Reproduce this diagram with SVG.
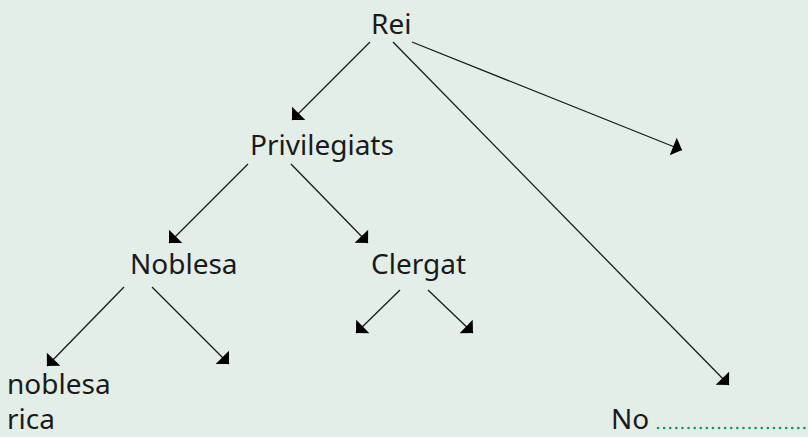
<svg xmlns="http://www.w3.org/2000/svg" width="808" height="437" viewBox="0 0 808 437">
<style>
.t{font-family:"Noto Sans","Liberation Sans",sans-serif;font-size:28px;fill:#1a1a1a}
.c{stroke:#1a1a1a;stroke-width:1.3;fill:none;marker-end:url(#ah)}
</style>
<defs>
<marker id="ah" markerUnits="userSpaceOnUse" markerWidth="12" markerHeight="20" viewBox="0 -9 9 18" refX="8.5" refY="0" orient="auto">
<path d="M0,-8.5 L8.5,0 L0,8.5 z" fill="#000"/>
</marker>
</defs>
<rect width="808" height="437" fill="#e3eee8"/>
<g id="connectors">
<line class="c" x1="370" y1="42" x2="292" y2="120"/>
<line class="c" x1="393" y1="42" x2="729" y2="385"/>
<line class="c" x1="412" y1="42" x2="682" y2="150"/>
<line class="c" x1="248" y1="164" x2="169" y2="243"/>
<line class="c" x1="291" y1="164" x2="368" y2="243"/>
<line class="c" x1="124" y1="287" x2="47" y2="366"/>
<line class="c" x1="152" y1="287" x2="229" y2="364"/>
<line class="c" x1="400" y1="290" x2="356" y2="333"/>
<line class="c" x1="428" y1="290" x2="473" y2="333"/>
</g>
<g id="rei"><text class="t" x="371" y="34">Rei</text></g>
<g id="privilegiats"><text class="t" x="250" y="155">Privilegiats</text></g>
<g id="noblesa"><text class="t" x="130" y="274">Noblesa</text></g>
<g id="clergat"><text class="t" x="371" y="274">Clergat</text></g>
<g id="noblesa-rica"><text class="t" x="7" y="394">noblesa</text><text class="t" x="7" y="429">rica</text></g>
<g id="no"><text class="t" x="611" y="429">No</text>
<line x1="658" y1="428" x2="808" y2="428" stroke="#139a6c" stroke-width="2.6" stroke-linecap="round" stroke-dasharray="0.1 6"/></g>
</svg>
